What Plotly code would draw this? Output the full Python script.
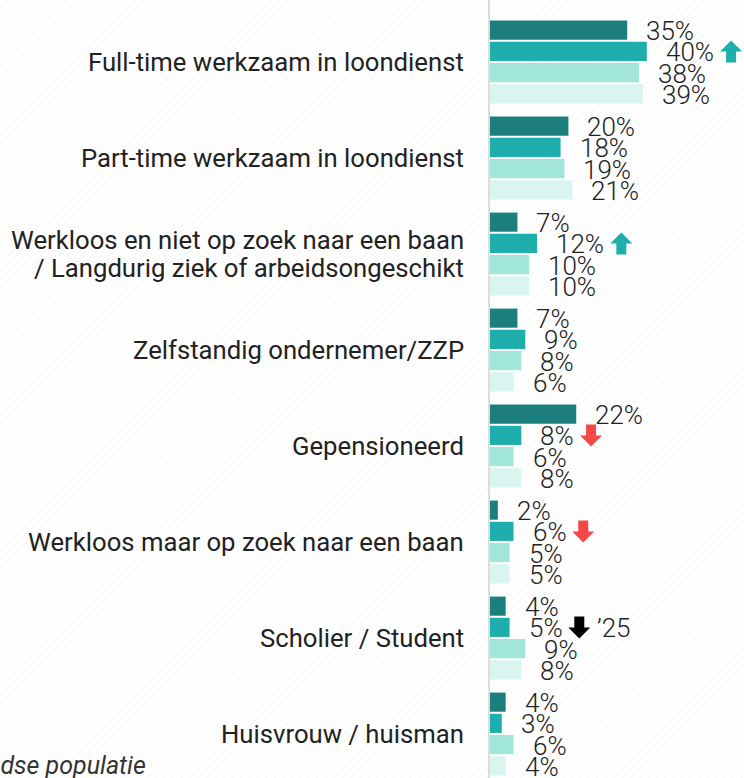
import plotly.graph_objects as go

categories = [
    "Full-time werkzaam in loondienst",
    "Part-time werkzaam in loondienst",
    "Werkloos en niet op zoek naar een baan<br>/ Langdurig ziek of arbeidsongeschikt",
    "Zelfstandig ondernemer/ZZP",
    "Gepensioneerd",
    "Werkloos maar op zoek naar een baan",
    "Scholier / Student",
    "Huisvrouw / huisman",
]
series_names = ["Serie 1", "Serie 2", "Serie 3", "Serie 4"]
s1 = [35, 20, 7, 7, 22, 2, 4, 4]
s2 = [40, 18, 12, 9, 8, 6, 5, 3]
s3 = [38, 19, 10, 8, 6, 5, 9, 6]
s4 = [39, 21, 10, 6, 8, 5, 8, 4]
# trend markers on series 2: category index -> (direction, colour, suffix)
trends = {0: ("up", "#1eaeab", ""), 2: ("up", "#1eaeab", ""),
          4: ("down", "#f44848", ""), 5: ("down", "#f44848", ""),
          6: ("down", "#000000", "\u201925")}
footnote = "Nederlandse populatie"

colors = ["#1a7f7d", "#1eaeab", "#a1e6d9", "#daf4ef"]
series = [s1, s2, s3, s4]

W, H = 744, 778
bargap = 0.115
groupgap = 0.1
n = len(series)
slot = (1 - bargap) / n
VAL_SIZE = 26
CAT_SIZE = 25.7
GAP = 17

# approximate Roboto advance widths (em)
CW = {"%": 0.733, " ": 0.25}
def text_w(s, size):
    return sum(CW.get(c, 0.5615) for c in s) * size

fig = go.Figure()

# hatched background
fig.add_trace(go.Bar(
    x=[0.5], y=[1], width=[1], base=[0], xaxis="x", yaxis="y",
    marker=dict(color="white", line=dict(width=0),
                pattern=dict(shape="/", fgcolor="#e8e8e8", bgcolor="white",
                             size=6, solidity=0.15)),
    hoverinfo="skip", showlegend=False))

ypos = list(range(len(categories)))
for k, (vals, col, name) in enumerate(zip(series, colors, series_names)):
    fig.add_trace(go.Bar(
        x=vals, y=ypos, orientation="h", name=name,
        marker=dict(color=col, line=dict(width=0)),
        xaxis="x2", yaxis="y2", showlegend=False))

annotations = []
shapes = []
for i, cat in enumerate(categories):
    lines = cat.split("<br>")
    m = len(lines)
    for li, line in enumerate(lines):
        annotations.append(dict(
            text=line, xref="paper", x=466 / W, xanchor="right",
            yref="y2", y=i, yanchor="middle", yshift=((m - 1) / 2 - li) * 28,
            showarrow=False,
            font=dict(family="Roboto", size=CAT_SIZE, color="#222222")))

UP = "M -11 0 L 0 11 L 11 0 L 5 0 L 5 -11 L -5 -11 L -5 0 Z"
DOWN = "M -11 0 L 0 -11 L 11 0 L 5 0 L 5 11 L -5 11 L -5 0 Z"

def shift_path(p, dx):
    parts = p.split()
    out = []
    j = 0
    while j < len(parts):
        t = parts[j]
        if t in ("M", "L"):
            out += [t, f"{float(parts[j+1]) + dx:.1f}", parts[j+2]]
            j += 3
        else:
            out.append(t)
            j += 1
    return " ".join(out)

for k, vals in enumerate(series):
    for i, v in enumerate(vals):
        txt = f"{v}%"
        yc = i + (k - (n - 1) / 2) * slot
        annotations.append(dict(
            text=txt, xref="x2", x=v, xanchor="left", xshift=GAP,
            yref="y2", y=yc, yanchor="middle", yshift=-1,
            showarrow=False,
            font=dict(family="Roboto", size=VAL_SIZE, color="#222222", weight=300)))
        if k == 1 and i in trends:
            d, c, suf = trends[i]
            off = GAP + text_w(txt, VAL_SIZE) + 8 + 11
            p = UP if d == "up" else DOWN
            shapes.append(dict(
                type="path", xref="x2", yref="y2", xsizemode="pixel",
                ysizemode="pixel", xanchor=v, yanchor=yc,
                path=shift_path(p, off), fillcolor=c, line=dict(width=0)))
            if suf:
                annotations.append(dict(
                    text=suf, xref="x2", x=v, xanchor="left", xshift=off + 11 + 5,
                    yref="y2", y=yc, yanchor="middle", yshift=-1, showarrow=False,
                    font=dict(family="Roboto", size=VAL_SIZE, color="#222222", weight=300)))

annotations.append(dict(
    text=f"<i>{footnote}</i>", xref="paper", x=148 / W, xanchor="right",
    yref="paper", y=1 - 765 / H, yanchor="middle", showarrow=False,
    font=dict(family="Roboto", size=25, color="#333333")))

top_px = 62
fig.update_layout(
    width=W, height=H,
    margin=dict(l=0, r=0, t=0, b=0),
    paper_bgcolor="white", plot_bgcolor="rgba(0,0,0,0)",
    barmode="group", bargap=bargap, bargroupgap=groupgap,
    xaxis=dict(domain=[0, 1], range=[0, 1], visible=False, fixedrange=True),
    yaxis=dict(domain=[0, 1], range=[0, 1], visible=False, fixedrange=True),
    xaxis2=dict(domain=[490 / W, 1], range=[0, (W - 490) / 3.92], visible=False,
                anchor="y2"),
    yaxis2=dict(domain=[0, 1], anchor="x2",
                range=[(H - top_px) / 96, -top_px / 96],
                showticklabels=False, ticks="", showgrid=False, zeroline=False,
                showline=True, linecolor="#dddddd", linewidth=2),
    annotations=annotations,
    shapes=shapes,
)

fig.write_html("out.html", config={"displayModeBar": False},
               post_script="document.body.style.margin='0';document.body.style.overflow='hidden';")
